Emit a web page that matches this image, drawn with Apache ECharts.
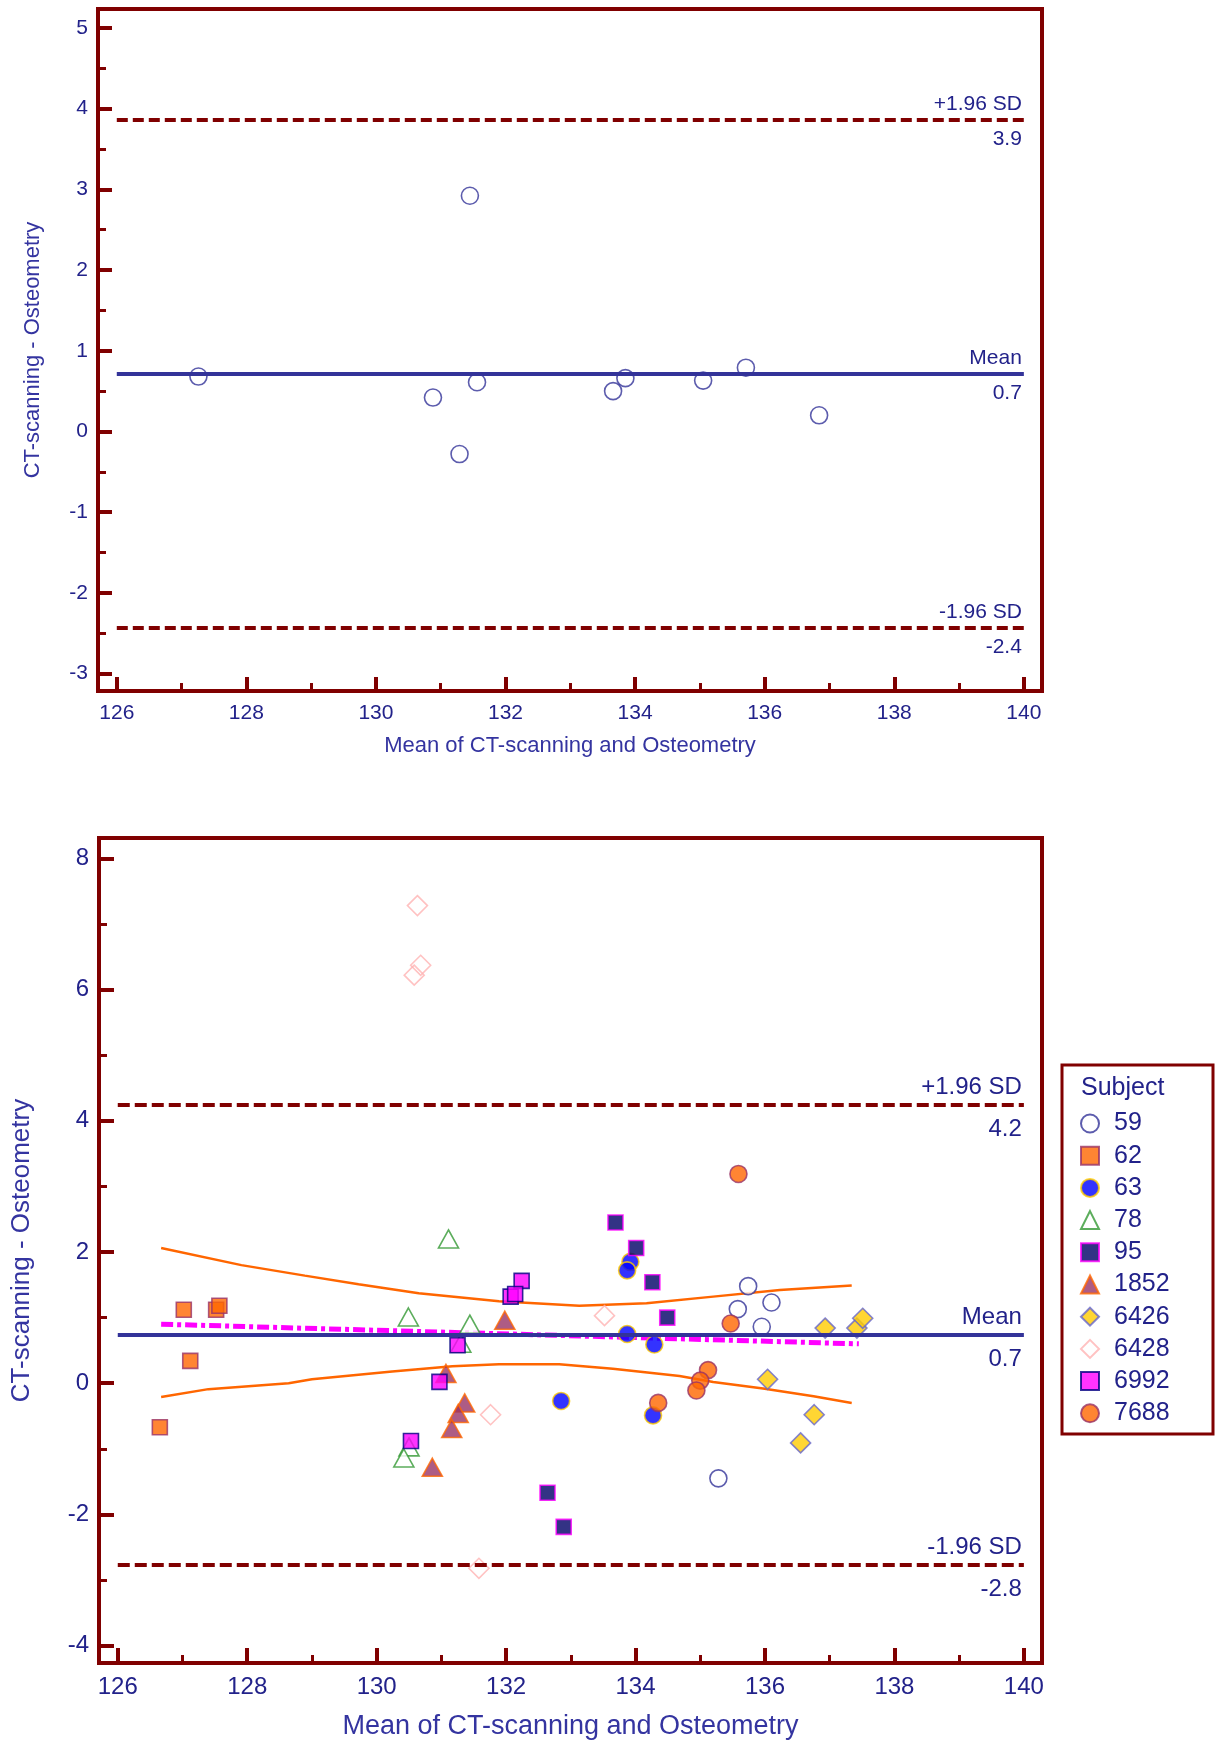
<!DOCTYPE html>
<html><head><meta charset="utf-8">
<script src="https://cdn.jsdelivr.net/npm/echarts@6/dist/echarts.min.js"></script>
<style>html,body{margin:0;padding:0;background:#fff}#c{width:1215px;height:1742px}</style>
</head><body><div id="c"></div>
<script>
// ---------- data (top chart) ----------
const topX = [127.26, 130.88, 131.29, 131.45, 131.56, 133.66, 133.85, 135.05, 135.71, 136.84];
const topY = [0.68, 0.42, -0.28, 2.92, 0.61, 0.50, 0.66, 0.63, 0.79, 0.20];
const topLimits = [3.86, 0.72, -2.43];
const topLimitText = [['+1.96 SD', '3.9'], ['Mean', '0.7'], ['-1.96 SD', '-2.4']];
const topYTicks = [-3, -2, -1, 0, 1, 2, 3, 4, 5];
const topYMinor = [-2.5, -1.5, -0.5, 0.5, 1.5, 2.5, 3.5, 4.5];
// ---------- data (bottom chart) ----------
const xTicks = [126, 128, 130, 132, 134, 136, 138, 140];
const xMinor = [127, 129, 131, 133, 135, 137, 139];
const botYTicks = [-4, -2, 0, 2, 4, 6, 8];
const botYMinor = [-3, -1, 1, 3, 5, 7];
const botLimits = [4.24, 0.735, -2.77];
const botLimitText = [['+1.96 SD', '4.2'], ['Mean', '0.7'], ['-1.96 SD', '-2.8']];
const subjects = ['59', '62', '63', '78', '95', '1852', '6426', '6428', '6992', '7688'];
const s59X = [135.74, 136.10, 135.58, 135.95, 135.28];
const s59Y = [1.48, 1.23, 1.13, 0.86, -1.45];
const s62X = [127.02, 127.52, 127.57, 127.12, 126.65];
const s62Y = [1.12, 1.12, 1.18, 0.34, -0.67];
const s63X = [133.92, 133.87, 133.87, 134.29, 132.85, 134.27];
const s63Y = [1.85, 1.72, 0.75, 0.59, -0.27, -0.49];
const s78X = [131.11, 130.49, 131.44, 131.30, 130.50, 130.42];
const s78Y = [2.20, 1.01, 0.90, 0.61, -0.97, -1.14];
const s95X = [133.69, 134.01, 134.26, 134.49, 132.64, 132.89];
const s95Y = [2.45, 2.06, 1.54, 1.00, -1.67, -2.19];
const s1852X = [131.07, 131.36, 131.26, 131.16, 130.86, 131.98];
const s1852Y = [0.15, -0.30, -0.46, -0.69, -1.28, 0.96];
const s6426X = [136.93, 137.42, 137.51, 136.04, 136.76, 136.55];
const s6426Y = [0.84, 0.84, 0.99, 0.06, -0.48, -0.91];
const s6428X = [130.63, 130.68, 130.58, 131.76, 133.52, 131.58];
const s6428Y = [7.28, 6.37, 6.22, -0.48, 1.03, -2.82];
const s6992X = [132.07, 130.97, 130.53, 131.25, 132.24, 132.14];
const s6992Y = [1.32, 0.02, -0.88, 0.58, 1.56, 1.36];
const s7688X = [135.59, 135.47, 135.12, 135.00, 134.94, 134.35];
const s7688Y = [3.19, 0.91, 0.20, 0.04, -0.11, -0.30];
const upX = [126.67, 127.91, 128.89, 129.72, 130.65, 131.89, 133.13, 134.17, 135.20, 136.23, 137.34];
const upY = [2.06, 1.80, 1.64, 1.51, 1.37, 1.25, 1.18, 1.22, 1.32, 1.42, 1.49];
const loX = [126.67, 127.40, 128.64, 129.00, 130.24, 131.17, 131.89, 132.82, 133.65, 134.68, 135.20, 135.97, 136.75, 137.34];
const loY = [-0.21, -0.09, 0.00, 0.06, 0.18, 0.26, 0.29, 0.29, 0.22, 0.11, 0.02, -0.08, -0.20, -0.30];
const regX = [126.67, 137.45];
const regY = [0.90, 0.60];

// ---------- styling ----------
const FONT = "'Liberation Sans', Arial, Helvetica, sans-serif";
const TXT = '#22228A';
const TITLE = '#3434A0';
const FRAME = '#800000';
const MEANC = '#333399';
const zip = (xs, ys) => xs.map((x, i) => [x, ys[i]]);

function xAxes(grid, fs, nameFs, nameGap, major) {
  const base = {gridIndex: grid, type: 'value', position: 'bottom', min: 125.71, max: 140.28, splitLine: {show: false},
    axisLine: {show: false, onZero: false}};
  return [
    Object.assign({}, base, {
      axisTick: {show: true, inside: true, length: major, customValues: xTicks, lineStyle: {color: FRAME, width: 4}},
      axisLabel: {show: true, customValues: xTicks, margin: 12, color: TXT, fontSize: fs, fontFamily: FONT},
      name: 'Mean of CT-scanning and Osteometry', nameLocation: 'middle', nameGap: nameGap,
      nameTextStyle: {color: TITLE, fontSize: nameFs, fontFamily: FONT}
    }),
    Object.assign({}, base, {
      axisTick: {show: true, inside: true, length: 8, customValues: xMinor, lineStyle: {color: FRAME, width: 3}},
      axisLabel: {show: false}
    })
  ];
}
function yAxes(grid, min, max, ticks, minor, fs, nameFs, nameGap, major) {
  const base = {gridIndex: grid, type: 'value', position: 'left', min: min, max: max, splitLine: {show: false},
    axisLine: {show: false, onZero: false}};
  return [
    Object.assign({}, base, {
      axisTick: {show: true, inside: true, length: major, customValues: ticks, lineStyle: {color: FRAME, width: 4}},
      axisLabel: {show: true, customValues: ticks, margin: 10, color: TXT, fontSize: fs, fontFamily: FONT},
      name: 'CT-scanning - Osteometry', nameLocation: 'middle', nameGap: nameGap, nameRotate: 90,
      nameTextStyle: {color: TITLE, fontSize: nameFs, fontFamily: FONT}
    }),
    Object.assign({}, base, {
      axisTick: {show: true, inside: true, length: 8, customValues: minor, lineStyle: {color: FRAME, width: 3}},
      axisLabel: {show: false}
    })
  ];
}
function refLines(vals, texts, fs, dash, dUp, dDown) {
  const data = [];
  vals.forEach((v, i) => {
    const ls = i === 1 ? {type: 'solid', width: 4, color: MEANC} : {type: dash, width: 4, color: FRAME};
    const lab = {show: true, color: TXT, fontSize: fs, fontFamily: FONT};
    data.push([{coord: [126, v], lineStyle: ls,
      label: Object.assign({}, lab, {formatter: texts[i][0], position: 'insideEndTop', distance: [2, dUp]})},
      {coord: [140, v]}]);
    data.push([{coord: [126, v], lineStyle: {type: 'solid', width: 1, color: 'rgba(255,255,255,0)'},
      label: Object.assign({}, lab, {formatter: texts[i][1], position: 'insideEndBottom', distance: [2, dDown]})},
      {coord: [140, v]}]);
  });
  return data;
}

const styles = {
  '59':   {symbol: 'circle',   size: 17,       fill: '#ffffff', border: '#333399'},
  '62':   {symbol: 'rect',     size: 15,       fill: '#FF6600', border: '#993366'},
  '63':   {symbol: 'circle',   size: 17,       fill: '#0000FF', border: '#FFCC00'},
  '78':   {symbol: 'triangle', size: [20, 18], fill: '#ffffff', border: '#339933'},
  '95':   {symbol: 'rect',     size: 15,       fill: '#000066', border: '#FF00FF'},
  '1852': {symbol: 'triangle', size: [20, 18], fill: '#993366', border: '#FF6600'},
  '6426': {symbol: 'diamond',  size: 20,       fill: '#FFCC00', border: '#6666CC'},
  '6428': {symbol: 'diamond',  size: 20,       fill: 'rgba(255,255,255,0)', border: '#FFB3B3'},
  '6992': {symbol: 'rect',     size: 15,       fill: '#FF00FF', border: '#000080'},
  '7688': {symbol: 'circle',   size: 17,       fill: '#FF6600', border: '#993366'}
};
const subjData = {
  '59': zip(s59X, s59Y), '62': zip(s62X, s62Y), '63': zip(s63X, s63Y), '78': zip(s78X, s78Y),
  '95': zip(s95X, s95Y), '1852': zip(s1852X, s1852Y), '6426': zip(s6426X, s6426Y),
  '6428': zip(s6428X, s6428Y), '6992': zip(s6992X, s6992Y), '7688': zip(s7688X, s7688Y)
};

const series = [];
// top chart
series.push({type: 'scatter', name: 'top', xAxisIndex: 0, yAxisIndex: 0, symbol: 'circle', symbolSize: 17,
  itemStyle: {color: 'rgba(255,255,255,0)', borderColor: '#333399', borderWidth: 1.6},
  data: zip(topX, topY), z: 3});
series.push({type: 'line', name: 'topRef', xAxisIndex: 0, yAxisIndex: 0, data: [], z: 6,
  markLine: {silent: true, symbol: ['none', 'none'], animation: false,
    data: refLines(topLimits, topLimitText, 21, [11, 5], 5, 9)}});
// bottom chart
series.push({type: 'line', name: 'up', xAxisIndex: 2, yAxisIndex: 2, data: zip(upX, upY), showSymbol: false,
  lineStyle: {color: '#FF6600', width: 2.5}, z: 1});
series.push({type: 'line', name: 'lo', xAxisIndex: 2, yAxisIndex: 2, data: zip(loX, loY), showSymbol: false,
  lineStyle: {color: '#FF6600', width: 2.5}, z: 1});
series.push({type: 'line', name: 'reg', xAxisIndex: 2, yAxisIndex: 2, data: zip(regX, regY), showSymbol: false,
  lineStyle: {color: '#FF00FF', width: 5, type: [12, 4, 4, 4]}, z: 1});
subjects.forEach(s => {
  const st = styles[s];
  series.push({type: 'scatter', name: s, xAxisIndex: 2, yAxisIndex: 2, symbol: st.symbol, symbolSize: st.size,
    itemStyle: {color: st.fill, borderColor: st.border, borderWidth: 1.6}, data: subjData[s], z: 3});
});
series.push({type: 'line', name: 'botRef', xAxisIndex: 2, yAxisIndex: 2, data: [], z: 6,
  markLine: {silent: true, symbol: ['none', 'none'], animation: false,
    data: refLines(botLimits, botLimitText, 24, [12, 5], 6, 12)}});

const option = {
  animation: false,
  backgroundColor: '#ffffff',
  grid: [
    {left: 98, top: 9, width: 944, height: 682, show: true, borderColor: FRAME, borderWidth: 4, backgroundColor: 'transparent'},
    {left: 99, top: 838, width: 943, height: 825, show: true, borderColor: FRAME, borderWidth: 4, backgroundColor: 'transparent'}
  ],
  xAxis: [].concat(xAxes(0, 21, 22, 44, 14), xAxes(1, 24, 27, 50, 15)),
  yAxis: [].concat(yAxes(0, -3.215, 5.233, topYTicks, topYMinor, 21, 22, 54, 14),
                   yAxes(1, -4.264, 8.31, botYTicks, botYMinor, 24, 26, 64, 15)),
  legend: {orient: 'vertical', left: 1075, top: 1106, itemWidth: 18, itemHeight: 18, itemGap: 7.2,
    data: subjects, selectedMode: false,
    textStyle: {fontSize: 25, color: TXT, fontFamily: FONT, lineHeight: 24, padding: [0, 0, 0, 10]}},
  graphic: [
    {type: 'rect', shape: {x: 1062, y: 1065, width: 151, height: 369}, style: {fill: 'none', stroke: FRAME, lineWidth: 3}},
    {type: 'text', x: 1081, y: 1088, style: {text: 'Subject', fontSize: 25, fill: TXT, fontFamily: FONT, verticalAlign: 'middle'}}
  ],
  series: series
};
const chart = echarts.init(document.getElementById('c'), null, {renderer: 'canvas'});
chart.setOption(option);
</script>
</body></html>
